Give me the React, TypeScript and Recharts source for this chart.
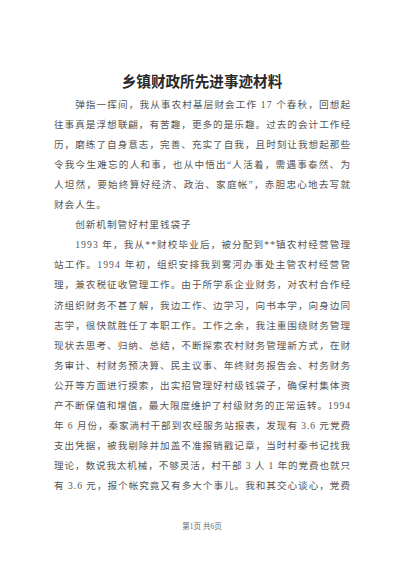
import React from 'react';
import { ScatterChart, Scatter, XAxis, YAxis } from 'recharts';

// page text, one entry per printed line
const TITLE = '乡镇财政所先进事迹材料';
const BODY_LINES = [
  '弹指一挥间，我从事农村基层财会工作 17 个春秋，回想起',
  '往事真是浮想联翩，有苦趣，更多的是乐趣。过去的会计工作经',
  '历，磨练了自身意志，完善、充实了自我，且时刻让我想起那些',
  '令我今生难忘的人和事，也从中悟出“人活着，需遇事泰然、为',
  '人坦然，要始终算好经济、政治、家庭帐”，赤胆忠心地去写就',
  '财会人生。',
  '创新机制管好村里钱袋子',
  '1993 年，我从**财校毕业后，被分配到**镇农村经营管理',
  '站工作。1994 年初，组织安排我到雾河办事处主管农村经营管',
  '理，兼农税征收管理工作。由于所学系企业财务，对农村合作经',
  '济组织财务不甚了解，我边工作、边学习，向书本学，向身边同',
  '志学，很快就胜任了本职工作。工作之余，我注重围绕财务管理',
  '现状去思考、归纳、总结，不断探索农村财务管理新方式，在财',
  '务审计、村财务预决算、民主议事、年终财务报告会、村务财务',
  '公开等方面进行摸索，出实招管理好村级钱袋子，确保村集体资',
  '产不断保值和增值，最大限度维护了村级财务的正常运转。1994',
  '年 6 月份，秦家淌村干部到农经服务站报表，发现有 3.6 元党费',
  '支出凭据，被我剔除并加盖不准报销戳记章，当时村秦书记找我',
  '理论，数说我太机械，不够灵活，村干部 3 人 1 年的党费也就只',
  '有 3.6 元，报个帐究竟又有多大个事儿。我和其交心谈心，党费',
];
const INDENTED_ROWS = [1, 7, 8];
const RAGGED_ROWS = [6, 7];
const FOOTER = '第1页 共6页';

const COLS = 28; // characters per full line
const PLOT_LEFT = 54;
const PLOT_RIGHT = 50;
const CHART_W = 400;
const CHART_H = 566;
const COL_W = (CHART_W - PLOT_LEFT - PLOT_RIGHT) / COLS;
const FONT = "'Liberation Serif', 'Noto Sans CJK SC', serif";

const rows = [
  { kind: 'title', text: TITLE, row: -0.1, col: COLS / 2, justify: false },
  ...BODY_LINES.map((text, i) => {
    const row = i + 1;
    return {
      kind: 'body',
      text,
      row,
      col: INDENTED_ROWS.includes(row) ? 2 : 0,
      justify: !RAGGED_ROWS.includes(row),
    };
  }),
  { kind: 'footer', text: FOOTER, row: 22.05, col: COLS / 2, justify: false },
];

const LineShape = (props: any) => {
  const { cx, cy, payload } = props;
  if (payload.kind === 'title') {
    return (
      <text x={cx} y={cy} textAnchor="middle" dominantBaseline="central"
        fontFamily={FONT} fontSize={14.6} fontWeight="bold" fill="#2a2a2a">
        {payload.text}
      </text>
    );
  }
  if (payload.kind === 'footer') {
    return (
      <text x={cx} y={cy} textAnchor="middle" dominantBaseline="central"
        fontFamily={FONT} fontSize={7.5} fill="#666">
        {payload.text}
      </text>
    );
  }
  const width = (COLS - payload.col) * COL_W;
  const isRagged = !payload.justify;
  return (
    <text x={cx} y={cy} dominantBaseline="central" fontFamily={FONT} fontSize={9.6} fill="#555"
      letterSpacing={isRagged ? 1 : undefined}
      {...(payload.justify ? { textLength: width, lengthAdjust: 'spacing' } : {})}>
      {payload.text}
    </text>
  );
};

export default function App() {
  return (
    <div style={{ position: 'absolute', left: 0, top: 0, width: CHART_W, height: CHART_H, background: '#fff' }}>
      <ScatterChart width={CHART_W} height={CHART_H}
        margin={{ top: 64, right: PLOT_RIGHT, bottom: 20, left: PLOT_LEFT }}>
        <XAxis type="number" dataKey="col" domain={[0, COLS]} hide />
        <YAxis type="number" dataKey="row" domain={[-1, 23]} reversed hide />
        <Scatter data={rows} shape={LineShape} isAnimationActive={false} />
      </ScatterChart>
    </div>
  );
}
